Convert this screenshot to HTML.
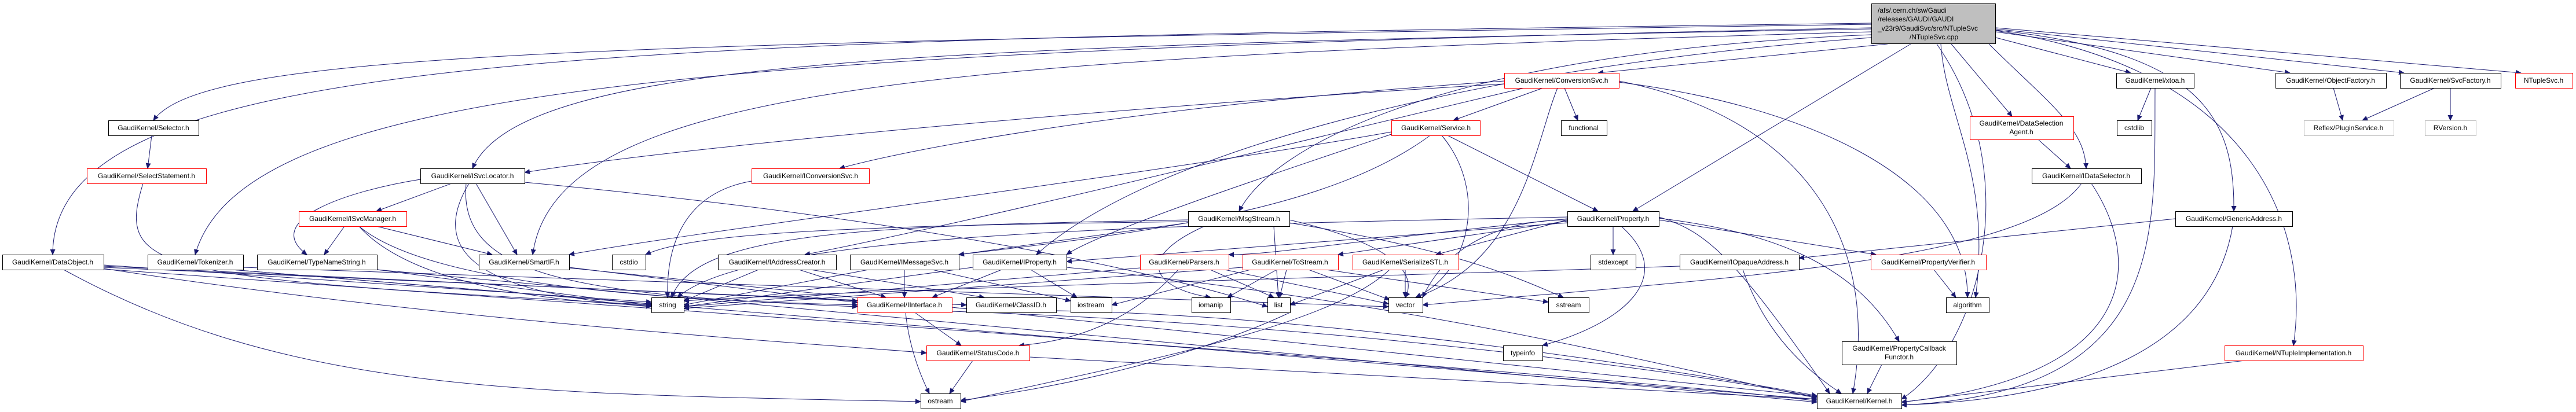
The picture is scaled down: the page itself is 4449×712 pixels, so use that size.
<!DOCTYPE html>
<html><head><meta charset="utf-8"><style>html,body{margin:0;padding:0;background:#fff}svg{display:block}text{font-family:"Liberation Sans",sans-serif;font-size:12px}</style></head><body>
<svg width="4449" height="712" viewBox="0 0 4449 712" xmlns="http://www.w3.org/2000/svg">
<defs><marker id="a" markerUnits="userSpaceOnUse" markerWidth="10" markerHeight="9" refX="9" refY="4.5" orient="auto"><path d="M0,0L10,4.5L0,9z" fill="#191970"/></marker></defs>
<g fill="none" stroke="#191970" stroke-width="1" marker-end="url(#a)">
<path d="M3232 40C1000 70 91 90 91 440"/>
<path d="M3232 42C1000 75 350 90 265 208"/>
<path d="M3232 48C1200 90 420 150 337 440"/>
<path d="M3232 50C1600 80 900 100 816 291"/>
<path d="M3232 55C1600 100 960 150 920 440"/>
<path d="M3260 76L2760 126"/>
<path d="M3232 60C2500 90 2200 250 2140 365"/>
<path d="M3232 65C2600 110 2000 250 1790 440"/>
<path d="M3300 76L2820 365"/>
<path d="M3370 76L3475 201"/>
<path d="M3435 76C3540 180 3600 220 3603 291"/>
<path d="M3447 65L3680 126"/>
<path d="M3447 55L3955 126"/>
<path d="M3447 50L4152 126"/>
<path d="M3447 48L4354 126"/>
<path d="M3447 52C3800 90 3860 200 3858 365"/>
<path d="M3447 53C3900 120 3990 400 3961 597"/>
<path d="M3352 76C3360 200 3440 300 3412 514"/>
<path d="M3345 76C3500 300 3420 600 3284 690"/>
<path d="M262 234L255 291"/>
<path d="M247 317C200 470 260 480 1125 527"/>
<path d="M179 462L1669 527"/>
<path d="M179 460L1481 520"/>
<path d="M179 464C800 560 1500 600 1600 610"/>
<path d="M110 466C500 680 900 680 1590 694"/>
<path d="M179 458L1125 522"/>
<path d="M179 465C1500 560 2800 650 3138 693"/>
<path d="M400 466L1125 525"/>
<path d="M420 462L2398 530"/>
<path d="M400 466L3138 690"/>
<path d="M651 466L1125 528"/>
<path d="M651 466L3138 695"/>
<path d="M780 317L650 365"/>
<path d="M726 310C600 330 450 380 530 440"/>
<path d="M822 317L893 440"/>
<path d="M810 317C730 450 860 510 1125 530"/>
<path d="M805 317C790 480 1000 510 1481 530"/>
<path d="M906 315C1600 380 2000 470 2189 530"/>
<path d="M595 391L560 440"/>
<path d="M650 391L850 440"/>
<path d="M620 391C700 480 900 520 1125 528"/>
<path d="M620 391C750 500 1200 520 1481 527"/>
<path d="M983 462L1481 523"/>
<path d="M2598 140C2000 180 1600 250 1450 291"/>
<path d="M2665 152L2510 208"/>
<path d="M2702 152L2725 208"/>
<path d="M2690 152C2650 250 2630 450 2445 514"/>
<path d="M2796 140C3100 200 3250 400 3200 680"/>
<path d="M2633 152C2300 230 1700 380 1390 440"/>
<path d="M2598 145C2000 180 1200 250 906 298"/>
<path d="M2796 142C3100 180 3400 300 3398 514"/>
<path d="M2470 234C2300 360 2000 400 1656 440"/>
<path d="M2403 228C2000 300 1200 400 983 440"/>
<path d="M2500 234L2760 365"/>
<path d="M2490 234C2570 330 2540 470 2445 514"/>
<path d="M2403 232C2200 300 1900 400 1842 440"/>
<path d="M1298 313C1200 330 1150 400 1153 514"/>
<path d="M2052 385L1656 440"/>
<path d="M2052 380C1500 390 1200 400 1160 514"/>
<path d="M2080 391C1950 450 2000 500 2091 514"/>
<path d="M2227 385C2500 430 2600 470 2700 514"/>
<path d="M2052 383C1500 390 1200 400 1115 440"/>
<path d="M2227 380C2400 420 2450 470 2427 514"/>
<path d="M2200 391L2208 514"/>
<path d="M2707 385L1842 452"/>
<path d="M2707 378C2300 420 2200 440 2122 440"/>
<path d="M2707 382L2311 440"/>
<path d="M2707 380L2480 440"/>
<path d="M2786 391L2786 440"/>
<path d="M2707 375C2000 390 1300 400 1170 514"/>
<path d="M2800 391C2900 480 2800 560 2664 597"/>
<path d="M2865 380L3240 440"/>
<path d="M2865 377C3050 400 3200 450 3280 590"/>
<path d="M2865 375C2950 400 3000 450 3160 680"/>
<path d="M2707 380C2600 380 2500 420 2457 514"/>
<path d="M3010 466C3050 580 3120 640 3180 680"/>
<path d="M2901 460C2300 480 1500 500 1181 520"/>
<path d="M3340 466L3378 514"/>
<path d="M3250 630L3225 680"/>
<path d="M3520 241L3576 291"/>
<path d="M3595 317C3500 450 3000 480 2457 527"/>
<path d="M3612 317C3700 450 3700 650 3284 695"/>
<path d="M3715 152L3692 208"/>
<path d="M3722 152C3720 400 3750 680 3284 700"/>
<path d="M4030 152L4046 208"/>
<path d="M4205 152L4080 208"/>
<path d="M4232 152L4232 208"/>
<path d="M3757 378L3107 446"/>
<path d="M3856 391C3820 600 3600 690 3284 700"/>
<path d="M3877 623L3284 695"/>
<path d="M1310 466L1181 520"/>
<path d="M1380 466L1530 514"/>
<path d="M1400 466L1700 514"/>
<path d="M1500 466L1181 527"/>
<path d="M1562 466L1562 514"/>
<path d="M1610 466L1849 520"/>
<path d="M1680 462L1181 530"/>
<path d="M1730 466L1610 514"/>
<path d="M1780 466L1860 514"/>
<path d="M1842 462C2500 530 2900 640 3138 688"/>
<path d="M2035 466C1950 560 1850 590 1760 597"/>
<path d="M2090 466L2200 514"/>
<path d="M1969 463L1181 530"/>
<path d="M2115 466L2398 525"/>
<path d="M2160 466L1920 527"/>
<path d="M2205 466L2120 514"/>
<path d="M2222 466L2210 514"/>
<path d="M2260 466L2400 518"/>
<path d="M2290 466L2674 522"/>
<path d="M2146 462L1181 533"/>
<path d="M2427 466L2427 514"/>
<path d="M2390 466L2228 527"/>
<path d="M2400 466C2300 560 2000 620 1659 694"/>
<path d="M1580 540L1660 597"/>
<path d="M1564 540C1570 600 1590 650 1605 680"/>
<path d="M1644 538C2300 560 2900 640 3138 686"/>
<path d="M1680 623L1640 680"/>
<path d="M1778 617L3138 690"/>
<path d="M2228 540C2100 600 1900 660 1659 692"/>
<path d="M1824 537C2300 545 2900 640 3138 684"/>
<path d="M983 463L3138 685"/>
</g>
<g stroke-width="1" fill="#fff">
<rect x="3232.5" y="6.5" width="214" height="69" fill="#bfbfbf" stroke="#000"/>
<rect x="2598.5" y="126.5" width="198" height="26" stroke="#f00"/>
<rect x="3655.5" y="126.5" width="134" height="26" stroke="#000"/>
<rect x="3930.5" y="126.5" width="191" height="26" stroke="#000"/>
<rect x="4145.5" y="126.5" width="174" height="26" stroke="#000"/>
<rect x="4344.5" y="126.5" width="99" height="26" stroke="#f00"/>
<rect x="187.5" y="208.5" width="156" height="26" stroke="#000"/>
<rect x="2403.5" y="208.5" width="153" height="26" stroke="#f00"/>
<rect x="2696.5" y="208.5" width="79" height="26" stroke="#000"/>
<rect x="3402.5" y="201.5" width="179" height="40" stroke="#f00"/>
<rect x="3656.5" y="208.5" width="60" height="26" stroke="#000"/>
<rect x="3979.5" y="208.5" width="155" height="26" stroke="#bfbfbf"/>
<rect x="4188.5" y="208.5" width="88" height="26" stroke="#bfbfbf"/>
<rect x="150.5" y="291.5" width="206" height="26" stroke="#f00"/>
<rect x="726.5" y="291.5" width="180" height="26" stroke="#000"/>
<rect x="1298.5" y="291.5" width="203" height="26" stroke="#f00"/>
<rect x="3509.5" y="291.5" width="189" height="26" stroke="#000"/>
<rect x="516.5" y="365.5" width="186" height="26" stroke="#f00"/>
<rect x="2052.5" y="365.5" width="175" height="26" stroke="#000"/>
<rect x="2707.5" y="365.5" width="158" height="26" stroke="#000"/>
<rect x="3757.5" y="365.5" width="202" height="26" stroke="#000"/>
<rect x="4.5" y="440.5" width="175" height="26" stroke="#000"/>
<rect x="255.5" y="440.5" width="165" height="26" stroke="#000"/>
<rect x="444.5" y="440.5" width="207" height="26" stroke="#000"/>
<rect x="827.5" y="440.5" width="156" height="26" stroke="#000"/>
<rect x="1057.5" y="440.5" width="58" height="26" stroke="#000"/>
<rect x="1240.5" y="440.5" width="204" height="26" stroke="#000"/>
<rect x="1468.5" y="440.5" width="188" height="26" stroke="#000"/>
<rect x="1680.5" y="440.5" width="162" height="26" stroke="#000"/>
<rect x="1969.5" y="440.5" width="153" height="26" stroke="#f00"/>
<rect x="2146.5" y="440.5" width="165" height="26" stroke="#f00"/>
<rect x="2336.5" y="440.5" width="183" height="26" stroke="#f00"/>
<rect x="2747.5" y="440.5" width="78" height="26" stroke="#000"/>
<rect x="2901.5" y="440.5" width="206" height="26" stroke="#000"/>
<rect x="3231.5" y="440.5" width="199" height="26" stroke="#f00"/>
<rect x="1125.5" y="514.5" width="56" height="26" stroke="#000"/>
<rect x="1481.5" y="514.5" width="163" height="26" stroke="#f00"/>
<rect x="1669.5" y="514.5" width="155" height="26" stroke="#000"/>
<rect x="1849.5" y="514.5" width="71" height="26" stroke="#000"/>
<rect x="2058.5" y="514.5" width="67" height="26" stroke="#000"/>
<rect x="2189.5" y="514.5" width="39" height="26" stroke="#000"/>
<rect x="2398.5" y="514.5" width="59" height="26" stroke="#000"/>
<rect x="2674.5" y="514.5" width="70" height="26" stroke="#000"/>
<rect x="3361.5" y="514.5" width="74" height="26" stroke="#000"/>
<rect x="1600.5" y="597.5" width="178" height="26" stroke="#f00"/>
<rect x="2596.5" y="597.5" width="68" height="26" stroke="#000"/>
<rect x="3181.5" y="590.5" width="198" height="40" stroke="#000"/>
<rect x="3842.5" y="597.5" width="239" height="26" stroke="#f00"/>
<rect x="1590.5" y="680.5" width="69" height="26" stroke="#000"/>
<rect x="3138.5" y="680.5" width="146" height="26" stroke="#000"/>
</g>
<g fill="#000" text-anchor="middle">
<text x="3243" y="22" text-anchor="start">/afs/.cern.ch/sw/Gaudi</text>
<text x="3243" y="37" text-anchor="start">/releases/GAUDI/GAUDI</text>
<text x="3243" y="53" text-anchor="start">_v23r9/GaudiSvc/src/NTupleSvc</text>
<text x="3340" y="68">/NTupleSvc.cpp</text>
<text x="2697" y="143">GaudiKernel/ConversionSvc.h</text>
<text x="3722" y="143">GaudiKernel/xtoa.h</text>
<text x="4025" y="143">GaudiKernel/ObjectFactory.h</text>
<text x="4232" y="143">GaudiKernel/SvcFactory.h</text>
<text x="4393" y="143">NTupleSvc.h</text>
<text x="265" y="225">GaudiKernel/Selector.h</text>
<text x="2480" y="225">GaudiKernel/Service.h</text>
<text x="2735" y="225">functional</text>
<text x="3491" y="217">GaudiKernel/DataSelection</text>
<text x="3491" y="232">Agent.h</text>
<text x="3686" y="225">cstdlib</text>
<text x="4056" y="225">Reflex/PluginService.h</text>
<text x="4232" y="225">RVersion.h</text>
<text x="253" y="308">GaudiKernel/SelectStatement.h</text>
<text x="816" y="308">GaudiKernel/ISvcLocator.h</text>
<text x="1400" y="308">GaudiKernel/IConversionSvc.h</text>
<text x="3603" y="308">GaudiKernel/IDataSelector.h</text>
<text x="609" y="382">GaudiKernel/ISvcManager.h</text>
<text x="2140" y="382">GaudiKernel/MsgStream.h</text>
<text x="2786" y="382">GaudiKernel/Property.h</text>
<text x="3858" y="382">GaudiKernel/GenericAddress.h</text>
<text x="91" y="457">GaudiKernel/DataObject.h</text>
<text x="337" y="457">GaudiKernel/Tokenizer.h</text>
<text x="547" y="457">GaudiKernel/TypeNameString.h</text>
<text x="905" y="457">GaudiKernel/SmartIF.h</text>
<text x="1086" y="457">cstdio</text>
<text x="1342" y="457">GaudiKernel/IAddressCreator.h</text>
<text x="1562" y="457">GaudiKernel/IMessageSvc.h</text>
<text x="1761" y="457">GaudiKernel/IProperty.h</text>
<text x="2045" y="457">GaudiKernel/Parsers.h</text>
<text x="2228" y="457">GaudiKernel/ToStream.h</text>
<text x="2427" y="457">GaudiKernel/SerializeSTL.h</text>
<text x="2786" y="457">stdexcept</text>
<text x="3004" y="457">GaudiKernel/IOpaqueAddress.h</text>
<text x="3330" y="457">GaudiKernel/PropertyVerifier.h</text>
<text x="1153" y="531">string</text>
<text x="1562" y="531">GaudiKernel/IInterface.h</text>
<text x="1746" y="531">GaudiKernel/ClassID.h</text>
<text x="1884" y="531">iostream</text>
<text x="2091" y="531">iomanip</text>
<text x="2208" y="531">list</text>
<text x="2427" y="531">vector</text>
<text x="2709" y="531">sstream</text>
<text x="3398" y="531">algorithm</text>
<text x="1689" y="614">GaudiKernel/StatusCode.h</text>
<text x="2630" y="614">typeinfo</text>
<text x="3280" y="606">GaudiKernel/PropertyCallback</text>
<text x="3280" y="621">Functor.h</text>
<text x="3961" y="614">GaudiKernel/NTupleImplementation.h</text>
<text x="1624" y="697">ostream</text>
<text x="3211" y="697">GaudiKernel/Kernel.h</text>
</g>
</svg>
</body></html>
